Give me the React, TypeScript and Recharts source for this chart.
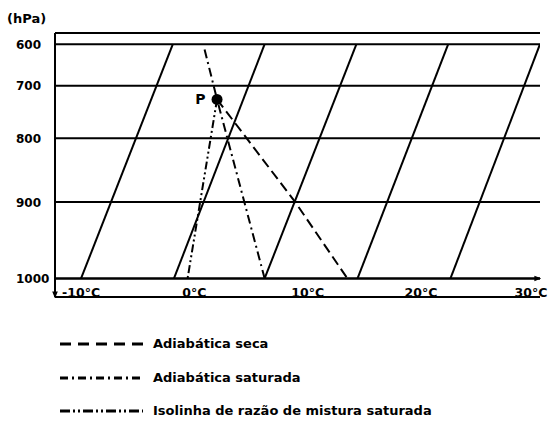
import React from "react";
import {
  CartesianGrid,
  ComposedChart,
  Legend,
  Line,
  ReferenceDot,
  ReferenceLine,
  XAxis,
  YAxis,
} from "recharts";

const PRESSURE_TICKS = [600, 700, 800, 900, 1000];
const TEMP_TICKS = [-10, 0, 10, 20, 30];

// isotermas inclinadas: temperatura (°C) lida em 1000 hPa e em 600 hPa
const ISOTHERM_AT_1000 = [-10, -1.8, 6.2, 14.4, 22.6];
const ISOTHERM_AT_600 = [-1.9, 6.2, 14.3, 22.4, 30.5];

const POINT_P = { t: 2, p: 728 };
const DRY_ADIABAT = [POINT_P, { t: 8.9, p: 900 }, { t: 13.5, p: 1000 }];
const SAT_ADIABAT = [{ t: 0.9, p: 614 }, POINT_P, { t: 6.2, p: 1000 }];
const MIXING_RATIO = [POINT_P, { t: -0.6, p: 1000 }];

const SERIES_NAMES = [
  "Adiabática seca",
  "Adiabática saturada",
  "Isolinha de razão de mistura saturada",
];

const TEMP_DOMAIN = [-12.3, 30.5];
const PRESSURE_DOMAIN = [568, 1022];
const PRESSURE_EXPONENT = 2.6;

const CHART_W = 549;
const CHART_H = 429;
const FONT = "'DejaVu Sans', 'Liberation Sans', sans-serif";
const INK = "#000";

const DASH = {
  dry: "10 5",
  sat: "9 4 2 4",
  mix: "8 3 2 3 2 3",
};
const LEGEND_DASH: Record<string, string> = {
  "Adiabática seca": "11 7",
  "Adiabática saturada": "8 4 2 4",
  "Isolinha de razão de mistura saturada": "10 3 2 3 2 3",
};

// escala de pressão não linear (o diagrama afasta os níveis perto de 1000 hPa)
function powerScale(k: number, dom: number[] = [0, 1], rng: number[] = [0, 1]): any {
  const f = (v: number) => Math.pow(v, k);
  const scale: any = (v: number) => {
    const a = f(dom[0]);
    const b = f(dom[dom.length - 1]);
    return rng[0] + ((f(Number(v)) - a) / (b - a)) * (rng[rng.length - 1] - rng[0]);
  };
  scale.domain = (d?: unknown[]) => {
    if (d === undefined) return dom.slice();
    dom = d.map(Number);
    return scale;
  };
  scale.range = (r?: unknown[]) => {
    if (r === undefined) return rng.slice();
    rng = r.map(Number);
    return scale;
  };
  scale.invert = (y: number) => {
    const a = f(dom[0]);
    const b = f(dom[dom.length - 1]);
    const frac = (y - rng[0]) / (rng[rng.length - 1] - rng[0]);
    return Math.pow(a + frac * (b - a), 1 / k);
  };
  scale.ticks = (n = 5) => {
    const lo = Math.min(dom[0], dom[dom.length - 1]);
    const hi = Math.max(dom[0], dom[dom.length - 1]);
    const raw = (hi - lo) / n;
    const mag = Math.pow(10, Math.floor(Math.log10(raw)));
    const step = [1, 2, 5, 10].map((m) => m * mag).find((s) => s >= raw) ?? raw;
    const out: number[] = [];
    for (let v = Math.ceil(lo / step) * step; v <= hi; v += step) out.push(v);
    return out;
  };
  scale.tickFormat = () => (v: number) => String(v);
  scale.nice = () => scale;
  scale.clamp = () => scale;
  scale.copy = () => powerScale(k, dom.slice(), rng.slice());
  return scale;
}

const pressureScale = powerScale(PRESSURE_EXPONENT);

function TempTick({ x, y, payload }: any) {
  // keep the last label inside the picture
  const cx = Math.min(x, CHART_W - 18);
  return (
    <text x={cx} y={y} textAnchor="middle" fill={INK} fontFamily={FONT} fontWeight="bold" fontSize={12.5}>
      {`${payload.value}°C`}
    </text>
  );
}

function PressureTick({ y, payload }: any) {
  return (
    <text x={16} y={y + 4.5} textAnchor="start" fill={INK} fontFamily={FONT} fontWeight="bold" fontSize={12}>
      {payload.value}
    </text>
  );
}

function UnitLabel({ viewBox }: any) {
  return (
    <text x={viewBox.x - 8} y={viewBox.y - 10} fill={INK} fontFamily={FONT} fontWeight="bold" fontSize={13}>
      (hPa)
    </text>
  );
}

function LegendRows({ payload }: any) {
  // only the three named profile lines go in the key (isotherms are left out)
  const items = (payload ?? [])
    .filter((e: any) => SERIES_NAMES.includes(e.value))
    .sort((a: any, b: any) => SERIES_NAMES.indexOf(a.value) - SERIES_NAMES.indexOf(b.value));
  return (
    <div style={{ fontFamily: FONT, fontWeight: "bold", fontSize: 13, color: INK }}>
      {items.map((entry: any) => (
        <div
          key={entry.value}
          style={{ display: "flex", alignItems: "center", height: 20, marginBottom: 13.5 }}
        >
          <svg width={83} height={6} style={{ display: "block" }}>
            <line x1={0} y1={3} x2={83} y2={3} stroke={INK} strokeWidth={3} strokeDasharray={LEGEND_DASH[entry.value]} />
          </svg>
          <span style={{ marginLeft: 10, whiteSpace: "nowrap", lineHeight: "20px" }}>{entry.value}</span>
        </div>
      ))}
    </div>
  );
}

export default function App() {
  const isotherms = ISOTHERM_AT_1000.map((t, i) => [
    { t, p: 1000 },
    { t: ISOTHERM_AT_600[i], p: 600 },
  ]);

  return (
    <div style={{ position: "absolute", left: 0, top: 0, width: CHART_W, height: CHART_H, background: "#fff" }}>
      <svg width={0} height={0} style={{ position: "absolute" }}>
        <defs>
          <marker
            id="arrow-head"
            viewBox="0 0 10 10"
            refX="8"
            refY="5"
            markerUnits="userSpaceOnUse"
            markerWidth="7"
            markerHeight="7"
            orient="auto"
          >
            <path d="M0,1 L10,5 L0,9 z" fill={INK} />
          </marker>
        </defs>
      </svg>
      <ComposedChart width={CHART_W} height={CHART_H} margin={{ top: 33, right: 9, bottom: 112, left: 15 }}>
        <CartesianGrid vertical={false} stroke={INK} strokeWidth={2} />
        <XAxis
          type="number"
          dataKey="t"
          domain={TEMP_DOMAIN}
          ticks={TEMP_TICKS}
          interval={0}
          allowDataOverflow
          axisLine={false}
          tickLine={false}
          tickSize={0}
          tickMargin={0}
          height={20}
          tick={<TempTick />}
        />
        <YAxis
          type="number"
          dataKey="p"
          domain={PRESSURE_DOMAIN}
          ticks={PRESSURE_TICKS}
          interval={0}
          reversed
          allowDataOverflow
          scale={pressureScale}
          width={40}
          tickLine={false}
          axisLine={{ stroke: INK, strokeWidth: 2, markerEnd: "url(#arrow-head)" }}
          tick={<PressureTick />}
          label={{ content: UnitLabel }}
        />
        <ReferenceLine y={1000} stroke={INK} strokeWidth={2} markerEnd="url(#arrow-head)" />
        {isotherms.map((data, i) => (
          <Line
            key={`iso-${i}`}
            data={data}
            dataKey="p"
            type="linear"
            stroke={INK}
            strokeWidth={2}
            dot={false}
            activeDot={false}
            legendType="none"
            isAnimationActive={false}
          />
        ))}
        <Line
          data={DRY_ADIABAT}
          dataKey="p"
          name={SERIES_NAMES[0]}
          type="linear"
          stroke={INK}
          strokeWidth={2}
          strokeDasharray={DASH.dry}
          dot={false}
          activeDot={false}
          isAnimationActive={false}
        />
        <Line
          data={SAT_ADIABAT}
          dataKey="p"
          name={SERIES_NAMES[1]}
          type="linear"
          stroke={INK}
          strokeWidth={2}
          strokeDasharray={DASH.sat}
          dot={false}
          activeDot={false}
          isAnimationActive={false}
        />
        <Line
          data={MIXING_RATIO}
          dataKey="p"
          name={SERIES_NAMES[2]}
          type="linear"
          stroke={INK}
          strokeWidth={2}
          strokeDasharray={DASH.mix}
          dot={false}
          activeDot={false}
          isAnimationActive={false}
        />
        <ReferenceDot
          x={POINT_P.t}
          y={POINT_P.p}
          r={5.5}
          fill={INK}
          stroke="none"
          label={{ value: "P", position: "left", offset: 6, fill: INK, fontSize: 14, fontWeight: "bold", fontFamily: FONT }}
        />
        <Legend
          content={<LegendRows />}
          layout="vertical"
          align="center"
          verticalAlign="middle"
          wrapperStyle={{ left: 60, top: 334, width: 440, height: "auto" }}
        />
      </ComposedChart>
    </div>
  );
}
